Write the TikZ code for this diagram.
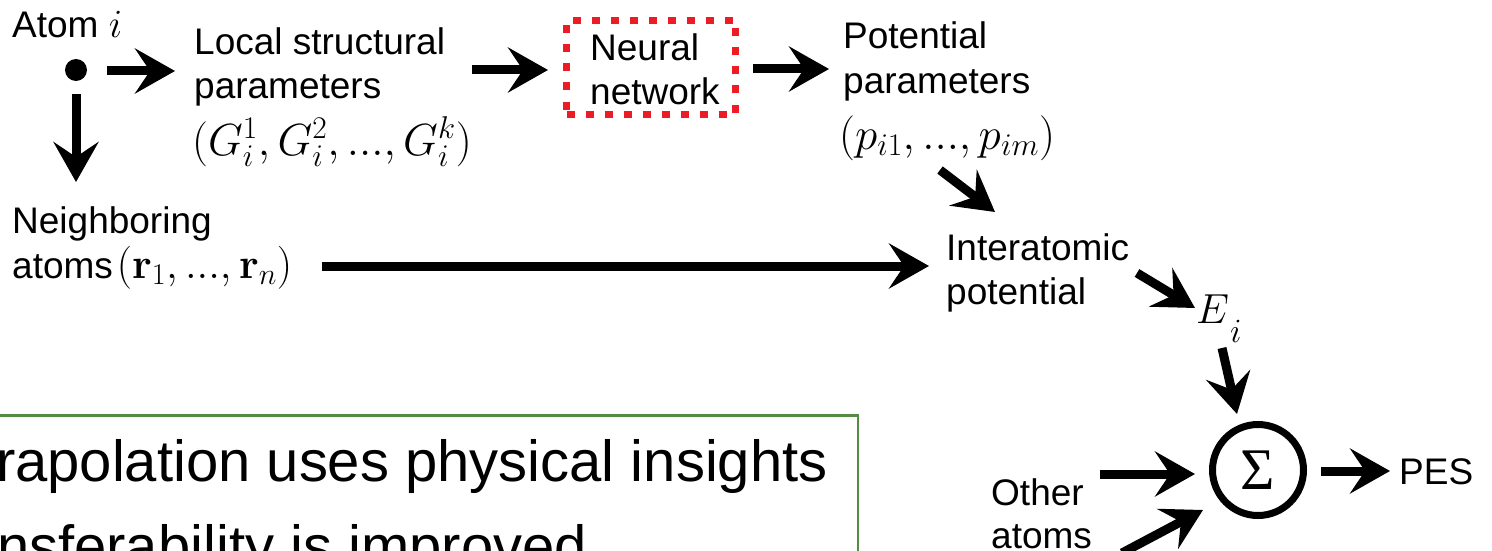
\RequirePackage{fix-cm}
\documentclass[tikz,border=0pt]{standalone}
\usepackage[no-math]{fontspec}
\setmainfont{Liberation Sans}
\newfontfamily\greekserif{Liberation Serif}
\usetikzlibrary{arrows.meta}

\definecolor{nnred}{RGB}{237,28,36}
\definecolor{boxgreen}{RGB}{84,140,68}

\tikzset{
  lbl/.style={anchor=base west, inner sep=0pt, font=\fontsize{37}{44}\selectfont},
  mathlbl/.style={anchor=base west, inner sep=0pt, font=\fontsize{45}{50}\selectfont},
  biglbl/.style={anchor=base west, inner sep=0pt, font=\fontsize{58}{70}\selectfont},
  flow/.style={line width=9pt, -{Stealth[length=40pt,width=45pt,inset=15pt]}},
  dashedbox/.style={draw=nnred, line width=7pt, dash pattern=on 8pt off 11pt,
    minimum width=169pt, minimum height=94pt, inner sep=0pt},
  sumnode/.style={circle, draw, line width=7pt, minimum size=91pt, inner sep=0pt},
}

\begin{document}
\begin{tikzpicture}[x=1pt, y=-1pt]
\useasboundingbox (0,0) rectangle (1492,551);
\clip (0,0) rectangle (1492,551);

% atom i and its two outputs
\node[lbl] (atomlbl) at (12,38) {Atom {\fontsize{40}{44}\selectfont$i$}};
\node[circle, fill, minimum size=22pt, inner sep=0pt] (atom) at (76,70) {};

\node[lbl] (lsp1) at (194,55) {Local structural};
\node[lbl] (lsp2) at (194,99) {parameters};
\node[mathlbl] (lspm) at (192,155) {$(G_i^1, G_i^2, ..., G_i^k)$};

\node[dashedbox] (nn) at (651,67.5) {};
\node[lbl] (nn1) at (590,61) {Neural};
\node[lbl] (nn2) at (590,104) {network};

\node[lbl] (pp1) at (843,49) {Potential};
\node[lbl] (pp2) at (843,94) {parameters};
\node[mathlbl] (ppm) at (839,149) {$(p_{i1}, ..., p_{im})$};

\node[lbl] (nb1) at (12,233) {Neighboring};
\node[lbl] (nb2) at (12,278) {atoms\hspace{4pt}{\fontsize{43}{46}\selectfont$(\mathbf{r}_1, ..., \mathbf{r}_n)$}};

\node[lbl] (ip1) at (946,260) {Interatomic};
\node[lbl] (ip2) at (946,304) {potential};

\node[anchor=base west, inner sep=0pt] (ei) at (1196,323)
  {\fontsize{42}{46}\selectfont$E$\hspace{1pt}\raisebox{-19pt}{\fontsize{34}{36}\selectfont$i$}};

\node[sumnode] (sum) at (1258,470) {\greekserif\fontsize{59}{60}\selectfont Σ};
\node[lbl] (pes) at (1399,484) {PES};
\node[lbl] (oa1) at (991,505) {Other};
\node[lbl] (oa2) at (991,548) {atoms};

% summary box
\node[draw=boxgreen, line width=2.5pt, minimum width=900pt, minimum height=200pt,
      inner sep=0pt, anchor=north east] (note) at (859,414) {};
\node[biglbl] (note1) at (-88,481.5) {Extrapolation uses physical insights};
\node[biglbl] (note2) at (-88,566) {Transferability is improved};

% connector end points
\coordinate (a1s) at (107,71);   \coordinate (a1e) at (175,71);
\coordinate (a2s) at (76,94);    \coordinate (a2e) at (76,182);
\coordinate (a3s) at (472,70);   \coordinate (a3e) at (548,70);
\coordinate (a4s) at (753,69);   \coordinate (a4e) at (829,69);
\coordinate (a5s) at (940,170);  \coordinate (a5e) at (995,212);
\coordinate (a6s) at (322,266);  \coordinate (a6e) at (929,266);
\coordinate (a7s) at (1137,273); \coordinate (a7e) at (1195,308);
\coordinate (a8s) at (1222,348); \coordinate (a8e) at (1237,414);
\coordinate (a9s) at (1100,474); \coordinate (a9e) at (1195,474);
\coordinate (a10s) at (1122,553);\coordinate (a10e) at (1203,510);
\coordinate (a11s) at (1321,471);\coordinate (a11e) at (1390,471);

\draw[flow] (a1s) -- (a1e);
\draw[flow] (a2s) -- (a2e);
\draw[flow] (a3s) -- (a3e);
\draw[flow] (a4s) -- (a4e);
\draw[flow] (a5s) -- (a5e);
\draw[flow] (a6s) -- (a6e);
\draw[flow] (a7s) -- (a7e);
\draw[flow] (a8s) -- (a8e);
\draw[flow] (a9s) -- (a9e);
\draw[flow] (a10s) -- (a10e);
\draw[flow] (a11s) -- (a11e);
\end{tikzpicture}
\end{document}
